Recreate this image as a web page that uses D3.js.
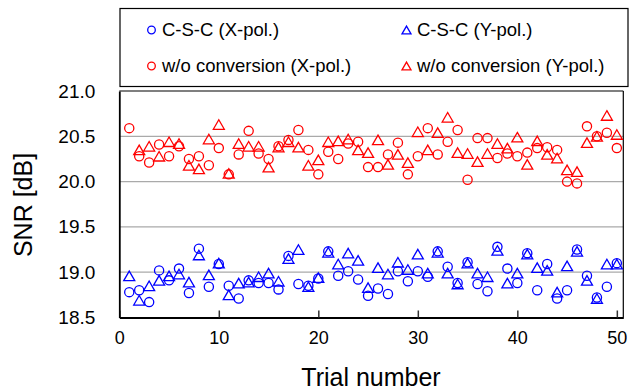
<!DOCTYPE html>
<html><head><meta charset="utf-8">
<script src="https://cdn.jsdelivr.net/npm/d3@7"></script>
<style>body{margin:0;background:#fff}svg{display:block}text{font-family:Arial,"Liberation Sans",sans-serif;fill:#000}</style>
</head><body><div id="chart"></div>
<script>
const trials = [1,2,3,4,5,6,7,8,9,10,11,12,13,14,15,16,17,18,19,20,21,22,23,24,25,26,27,28,29,30,31,32,33,34,35,36,37,38,39,40,41,42,43,44,45,46,47,48,49,50];
const cscX = [18.78,18.80,18.67,19.02,18.91,19.04,18.77,19.26,18.84,19.09,18.85,18.71,18.91,18.88,18.88,18.81,19.18,18.87,18.85,18.93,19.23,18.96,19.01,18.92,18.74,18.82,18.76,19.01,18.90,19.01,18.95,19.23,19.06,18.88,19.11,18.87,18.79,19.28,19.04,18.88,19.21,18.80,19.09,18.71,18.80,19.25,18.96,18.72,18.84,19.10];
const cscY = [18.96,18.69,18.85,18.91,18.96,18.98,18.89,19.19,18.97,19.10,18.75,18.88,18.89,18.95,18.99,18.90,19.15,19.25,18.84,18.94,19.22,19.09,19.21,19.13,18.83,19.05,18.98,19.11,19.03,19.20,18.99,19.22,18.99,18.87,19.10,18.99,18.95,19.24,18.88,18.99,19.20,19.05,19.02,18.78,19.07,19.23,18.91,18.71,19.09,19.09];
const woX = [20.59,20.28,20.21,20.41,20.28,20.39,20.25,20.28,20.18,20.37,20.08,20.30,20.56,20.31,20.25,20.39,20.46,20.57,20.35,20.08,20.33,20.25,20.42,20.44,20.16,20.16,20.30,20.43,20.08,20.28,20.59,20.30,20.44,20.57,20.02,20.48,20.48,20.26,20.31,20.28,20.32,20.37,20.38,20.35,20.00,19.98,20.61,20.50,20.54,20.37];
const woY = [null,20.35,20.39,20.28,20.44,20.42,20.18,20.14,20.47,20.63,20.09,20.42,20.39,20.39,20.16,20.38,20.44,20.38,20.18,20.24,20.44,20.45,20.47,20.35,20.32,20.46,20.19,20.30,20.21,20.55,20.35,20.54,20.71,20.32,20.31,20.22,20.31,20.42,20.37,20.49,20.19,20.45,20.30,20.26,20.13,20.11,20.43,20.50,20.73,20.52];
const xTicks = [0,10,20,30,40,50];
const yTicks = [18.5,19.0,19.5,20.0,20.5,21.0];
const seriesNames = ["C-S-C (X-pol.)","C-S-C (Y-pol.)","w/o conversion (X-pol.)","w/o conversion (Y-pol.)"];

const W = 630, H = 391;
const svg = d3.select("#chart").append("svg").attr("width", W).attr("height", H);
const x = d3.scaleLinear().domain([0, 50.65]).range([119.3, 623.3]);
const y = d3.scaleLinear().domain([18.5, 21.0]).range([317.5, 91]);

const series = [
  {name: seriesNames[0], vals: cscX, color: "#0000ff", shape: "circle"},
  {name: seriesNames[1], vals: cscY, color: "#0000ff", shape: "triangle"},
  {name: seriesNames[2], vals: woX, color: "#ff0000", shape: "circle"},
  {name: seriesNames[3], vals: woY, color: "#ff0000", shape: "triangle"}
];

// gridlines
svg.append("g").selectAll("line").data(yTicks.slice(1, 5)).join("line")
  .attr("x1", x(0)).attr("x2", x(50.65)).attr("y1", d => y(d)).attr("y2", d => y(d))
  .attr("stroke", "#aaaaaa").attr("stroke-width", 1.2);

// frame top/right
svg.append("line").attr("x1", x(0)).attr("x2", x(50.65)).attr("y1", y(21)).attr("y2", y(21)).attr("stroke", "#000").attr("stroke-width", 1.2);
svg.append("line").attr("x1", x(50.65)).attr("x2", x(50.65)).attr("y1", y(21)).attr("y2", y(18.5)).attr("stroke", "#000").attr("stroke-width", 1.2);

// x axis
const xAxis = d3.axisBottom(x).tickValues(xTicks).tickSize(0).tickPadding(14).tickFormat(d3.format("d"));
const gx = svg.append("g").attr("transform", `translate(0,${y(18.5)})`).call(xAxis);
gx.select(".domain").attr("stroke", "#000").attr("stroke-width", 1.8);
gx.selectAll("text").attr("font-size", 18).attr("font-family", "Arial, 'Liberation Sans', sans-serif");
gx.selectAll(".tick").append("line").attr("y1", 0).attr("y2", -7).attr("stroke", "#333").attr("stroke-width", 1.5);

// y axis
const yAxis = d3.axisLeft(y).tickValues(yTicks).tickSize(0).tickPadding(24).tickFormat(d3.format(".1f"));
const gy = svg.append("g").attr("transform", `translate(${x(0)},0)`).call(yAxis);
gy.select(".domain").attr("stroke", "#000").attr("stroke-width", 1.8);
gy.selectAll("text").attr("font-size", 19).attr("font-family", "Arial, 'Liberation Sans', sans-serif");

// axis titles
svg.append("text").attr("x", 371).attr("y", 386).attr("text-anchor", "middle").attr("font-size", 25).text("Trial number");
svg.append("text").attr("transform", "translate(32,205) rotate(-90)").attr("text-anchor", "middle").attr("font-size", 25).text("SNR [dB]");

function triPath(s) {
  const h = s * Math.sqrt(3) / 2;
  return `M0,${-h/2}L${s/2},${h/2}L${-s/2},${h/2}Z`;
}

// markers
const plot = svg.append("g");
series.forEach(sr => {
  const pts = trials.map((t, i) => ({t, v: sr.vals[i]})).filter(d => d.v != null);
  const g = plot.append("g");
  if (sr.shape === "circle") {
    g.selectAll("circle").data(pts).join("circle")
      .attr("cx", d => x(d.t)).attr("cy", d => y(d.v)).attr("r", 4.6)
      .attr("fill", "none").attr("stroke", sr.color).attr("stroke-width", 1.3);
  } else {
    g.selectAll("path").data(pts).join("path")
      .attr("transform", d => `translate(${x(d.t)},${y(d.v)})`).attr("d", triPath(11))
      .attr("fill", "none").attr("stroke", sr.color).attr("stroke-width", 1.3);
  }
});

// legend
const leg = svg.append("g");
leg.append("rect").attr("x", 120).attr("y", 8.5).attr("width", 508).attr("height", 78)
  .attr("fill", "#fff").attr("stroke", "#000").attr("stroke-width", 1.2);
const legPos = [[151.5, 30], [406.5, 30], [151.5, 66], [406.5, 66]];
series.forEach((sr, i) => {
  const [lx, ly] = legPos[i];
  if (sr.shape === "circle") {
    leg.append("circle").attr("cx", lx).attr("cy", ly).attr("r", 3.8).attr("fill", "none").attr("stroke", sr.color).attr("stroke-width", 1.3);
  } else {
    leg.append("path").attr("transform", `translate(${lx},${ly})`).attr("d", triPath(9)).attr("fill", "none").attr("stroke", sr.color).attr("stroke-width", 1.3);
  }
  leg.append("text").attr("x", lx + 10.5).attr("y", ly).attr("dy", "0.35em").attr("font-size", 18.5).text(sr.name);
});
</script></body></html>
